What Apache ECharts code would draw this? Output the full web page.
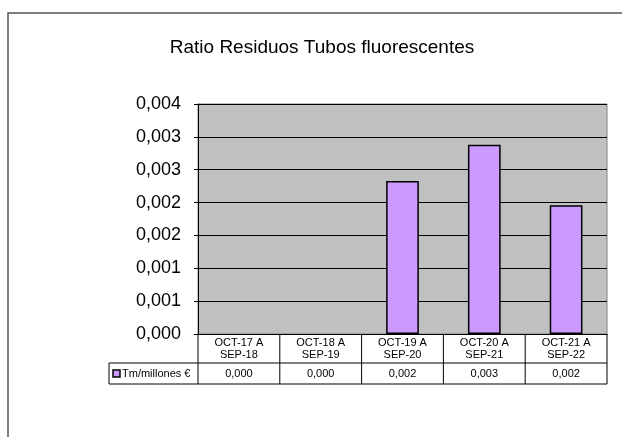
<!DOCTYPE html>
<html>
<head>
<meta charset="utf-8">
<script src="https://cdn.jsdelivr.net/npm/echarts@6/dist/echarts.min.js"></script>
<style>
  html, body { margin: 0; padding: 0; background: #fff; }
  #chart { width: 622px; height: 437px; }
</style>
</head>
<body>
<div id="chart"></div>
<script>
// datos del gráfico
const categories = ['OCT-17 A\nSEP-18', 'OCT-18 A\nSEP-19', 'OCT-19 A\nSEP-20', 'OCT-20 A\nSEP-21', 'OCT-21 A\nSEP-22']
const seriesName = 'Tm/millones €'
const values = [0, 0, 0.00233, 0.00288, 0.00196]
const valueLabels = ['0,000', '0,000', '0,002', '0,003', '0,002']
const yTickLabels = ['0,000', '0,001', '0,001', '0,002', '0,002', '0,003', '0,003', '0,004']

const FONT = 'Liberation Sans, Arial, sans-serif'
const STEP = 0.0005

const chart = echarts.init(document.getElementById('chart'))

const option = {
  animation: false,
  backgroundColor: '#fff',
  title: {
    text: 'Ratio Residuos Tubos fluorescentes',
    left: 317,
    top: 33,
    textAlign: 'center',
    textStyle: { fontFamily: FONT, fontSize: 19, fontWeight: 'normal', color: '#000' }
  },
  grid: {
    left: 198,
    right: 15,
    top: 104,
    bottom: 103,
    show: true,
    backgroundColor: '#C0C0C0',
    borderColor: '#808080',
    borderWidth: 1
  },
  xAxis: {
    type: 'category',
    data: categories,
    axisLine: { show: true, lineStyle: { color: '#000', width: 1 } },
    axisTick: { show: false },
    axisLabel: {
      fontFamily: FONT,
      fontSize: 11,
      lineHeight: 12,
      color: '#000',
      margin: 3,
      interval: 0
    },
    splitLine: { show: false }
  },
  yAxis: {
    type: 'value',
    min: 0,
    max: 0.0035,
    interval: STEP,
    axisLine: { show: true, lineStyle: { color: '#000', width: 1 } },
    axisTick: { show: true, length: 4, lineStyle: { color: '#000' } },
    axisLabel: {
      fontFamily: FONT,
      fontSize: 18,
      color: '#000',
      margin: 17,
      formatter: (v) => yTickLabels[Math.round(v / STEP)]
    },
    splitLine: { show: true, lineStyle: { color: '#000', width: 1 } }
  },
  series: [
    {
      name: seriesName,
      type: 'bar',
      // las barras de valor 0 no se dibujan con borde
      data: values.map((v) => (v === 0 ? { value: v, itemStyle: { borderWidth: 0 } } : v)),
      barWidth: '40%',
      itemStyle: { color: '#CC99FF', borderColor: '#000', borderWidth: 1.5 }
    }
  ]
}
chart.setOption(option)

// tabla de datos debajo del gráfico
const c0 = chart.convertToPixel({ xAxisIndex: 0 }, 0)
const c1 = chart.convertToPixel({ xAxisIndex: 0 }, 1)
const band = c1 - c0
const yBase = chart.convertToPixel({ yAxisIndex: 0 }, 0)
const xStart = c0 - band / 2
const xEnd = xStart + band * categories.length
const rowSep = yBase + 29
const rowEnd = yBase + 50
const legendLeft = 109

const line = (x1, y1, x2, y2) => ({
  type: 'line',
  shape: { x1, y1, x2, y2 },
  style: { stroke: '#000', lineWidth: 1 },
  z: 10
})

const graphics = [
  // marco exterior
  {
    type: 'rect',
    shape: { x: 8, y: 13, width: 700, height: 600 },
    style: { fill: null, stroke: '#555', lineWidth: 1.5 },
    z: 10
  },
  line(legendLeft, rowSep, xEnd, rowSep),
  line(legendLeft, rowEnd, xEnd, rowEnd),
  line(legendLeft, rowSep, legendLeft, rowEnd),
  {
    type: 'rect',
    shape: { x: legendLeft + 4, y: (rowSep + rowEnd) / 2 - 3.5, width: 7, height: 7 },
    style: { fill: '#CC99FF', stroke: '#000', lineWidth: 1.5 },
    z: 10
  },
  {
    type: 'text',
    x: legendLeft + 13,
    y: (rowSep + rowEnd) / 2,
    style: { text: seriesName, fontFamily: FONT, fontSize: 11, fill: '#000', textVerticalAlign: 'middle' },
    z: 10
  }
]
for (let i = 0; i <= categories.length; i++) {
  const x = xStart + band * i
  graphics.push(line(x, yBase, x, rowEnd))
}
valueLabels.forEach((t, i) => {
  graphics.push({
    type: 'text',
    x: chart.convertToPixel({ xAxisIndex: 0 }, i),
    y: (rowSep + rowEnd) / 2,
    style: { text: t, fontFamily: FONT, fontSize: 11, fill: '#000', textAlign: 'center', textVerticalAlign: 'middle' },
    z: 10
  })
})
chart.setOption({ graphic: graphics })
</script>
</body>
</html>
